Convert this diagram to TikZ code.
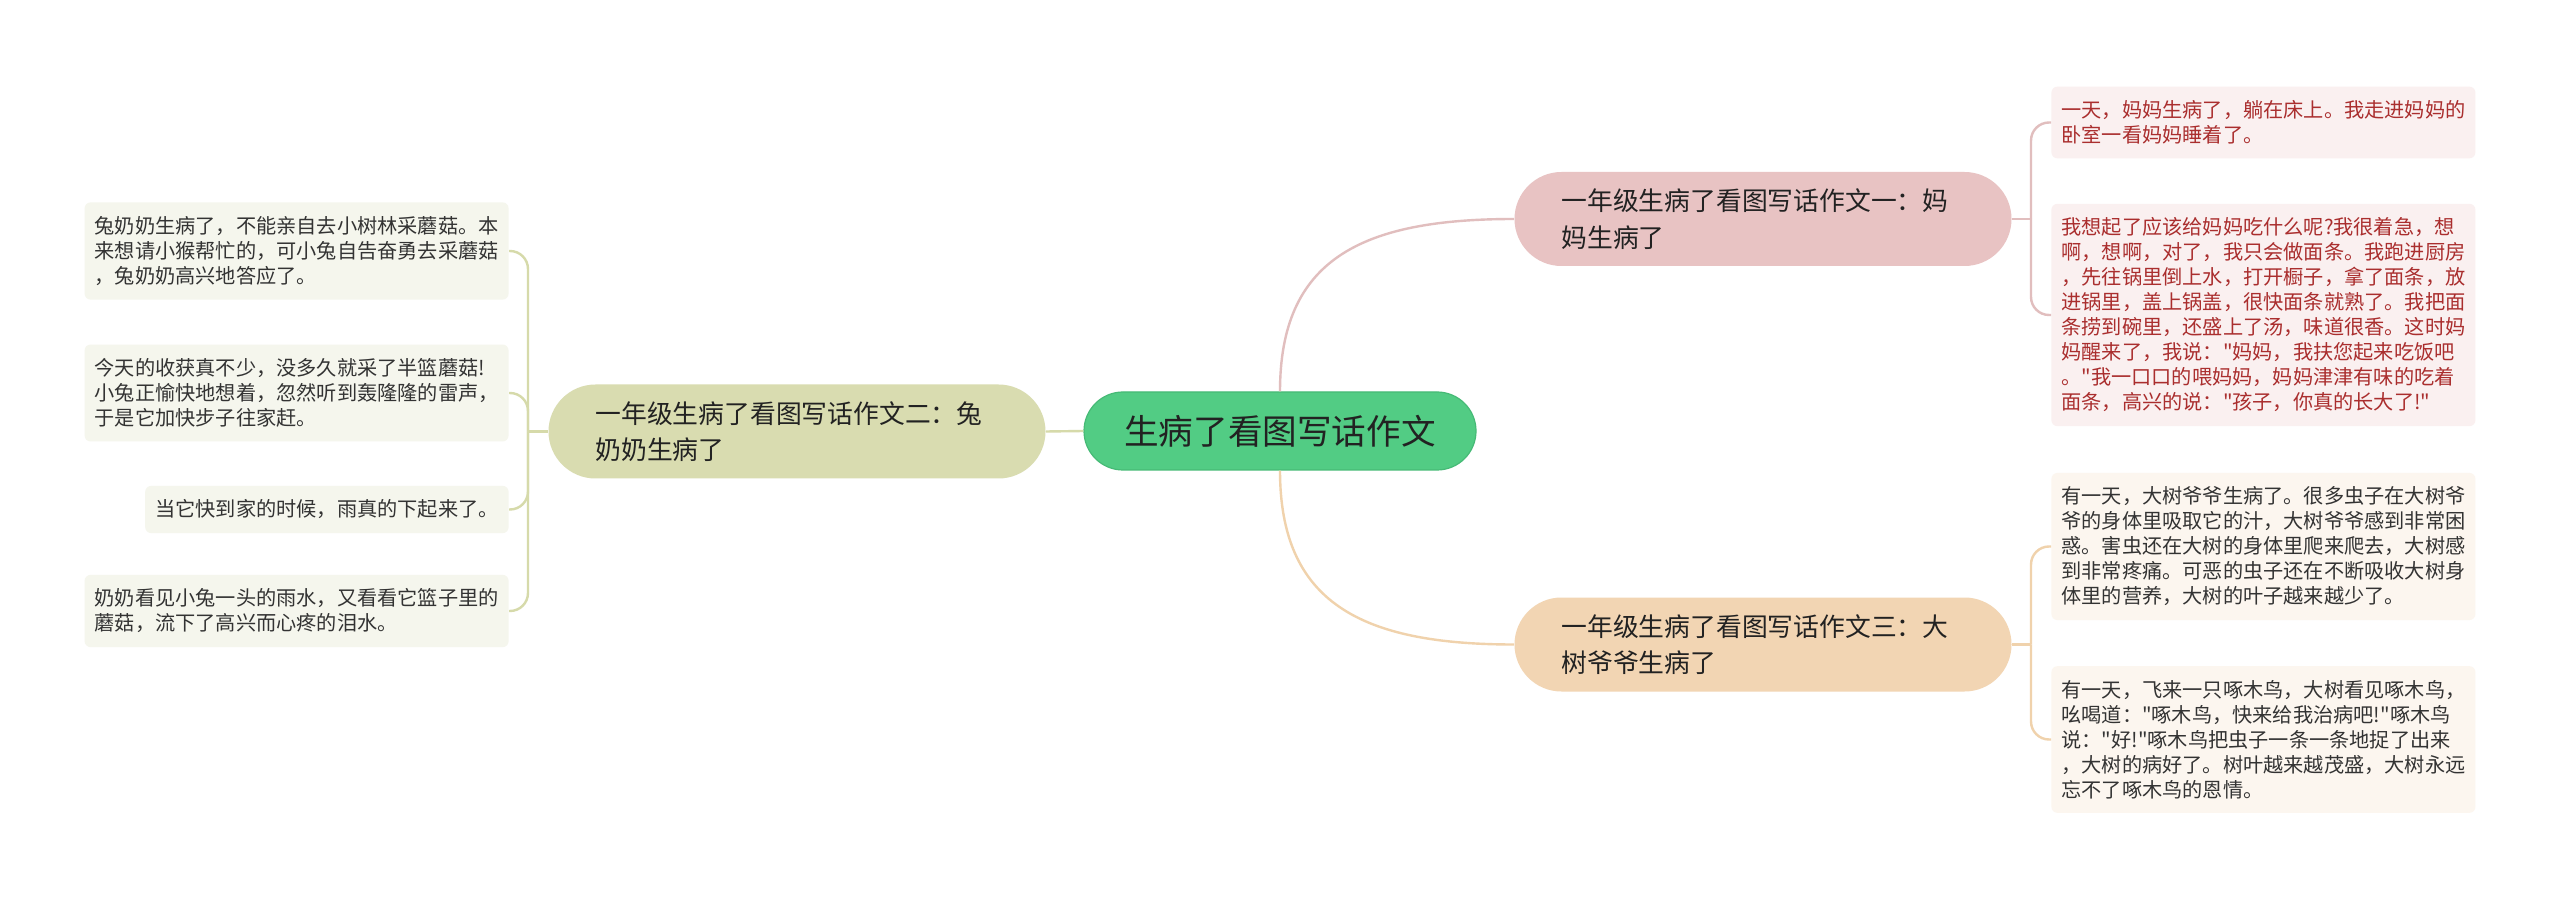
\documentclass[tikz,border=0pt]{standalone}
\usepackage{fontspec}
\setmainfont{Noto Sans CJK SC}[Ligatures=TeXOff]
\begin{document}
\begin{tikzpicture}[x=0.5pt, y=-0.5pt,
	rootnode/.style={fill=rootgreen, draw=rootedge, line width=0.6pt, rounded corners=19.5pt,
		minimum width=196pt, minimum height=39pt, text=textdark,
		font=\fontsize{17.3pt}{20pt}\selectfont},
	branchnode/.style={rounded corners=23.5pt, minimum width=248.5pt, minimum height=47pt,
		text width=201.5pt, inner xsep=23.5pt, align=left, text=textdark,
		font=\fontsize{12.9pt}{18.3pt}\selectfont},
	leafnode/.style={rounded corners=3pt, inner xsep=5pt, inner ysep=7pt, align=left,
		text=textgray, font=\fontsize{10.1pt}{12.5pt}\selectfont},
	link/.style={line width=1.2pt}]
	\definecolor{rootgreen}{RGB}{82, 204, 132}
	\definecolor{rootedge}{RGB}{70, 186, 118}
	\definecolor{textdark}{RGB}{34, 34, 34}
	\definecolor{textgray}{RGB}{51, 51, 51}
	\definecolor{redtext}{RGB}{170, 46, 46}
	\definecolor{pinkfill}{RGB}{232, 195, 195}
	\definecolor{pinkline}{RGB}{225, 190, 190}
	\definecolor{pinkleaf}{RGB}{250, 240, 240}
	\definecolor{olivefill}{RGB}{217, 220, 176}
	\definecolor{oliveline}{RGB}{214, 218, 170}
	\definecolor{oliveleaf}{RGB}{245, 246, 237}
	\definecolor{peachfill}{RGB}{242, 213, 179}
	\definecolor{peachline}{RGB}{240, 210, 172}
	\definecolor{peachleaf}{RGB}{252, 246, 239}

	% 画布（保持原图比例）
	\fill[white] (0,0) rectangle (2560,903);
	\useasboundingbox (0,0) rectangle (2560,903);

	% 中心主题与三个分支
	\node[rootnode] (root) at (1280,431) {生病了看图写话作文};
	\node[branchnode, fill=pinkfill] (b1) at (1763,219) {一年级生病了看图写话作文一：妈\\妈生病了};
	\node[branchnode, fill=olivefill] (b2) at (797,431.5) {一年级生病了看图写话作文二：兔\\奶奶生病了};
	\node[branchnode, fill=peachfill] (b3) at (1763,644.5) {一年级生病了看图写话作文三：大\\树爷爷生病了};

	% 右上分支的内容
	\node[leafnode, fill=pinkleaf, text=redtext, anchor=west] (l1a) at (2051,122.5)
		{一天，妈妈生病了，躺在床上。我走进妈妈的\\卧室一看妈妈睡着了。};
	\node[leafnode, fill=pinkleaf, text=redtext, anchor=west] (l1b) at (2051,315)
		{我想起了应该给妈妈吃什么呢?我很着急，想\\
		 啊，想啊，对了，我只会做面条。我跑进厨房\\
		 ，先往锅里倒上水，打开橱子，拿了面条，放\\
		 进锅里，盖上锅盖，很快面条就熟了。我把面\\
		 条捞到碗里，还盛上了汤，味道很香。这时妈\\
		 妈醒来了，我说："妈妈，我扶您起来吃饭吧\\
		 。"我一口口的喂妈妈，妈妈津津有味的吃着\\
		 面条，高兴的说："孩子，你真的长大了!"};

	% 右下分支的内容
	\node[leafnode, fill=peachleaf, anchor=west] (l3a) at (2051,546.5)
		{有一天，大树爷爷生病了。很多虫子在大树爷\\
		 爷的身体里吸取它的汁，大树爷爷感到非常困\\
		 惑。害虫还在大树的身体里爬来爬去，大树感\\
		 到非常疼痛。可恶的虫子还在不断吸收大树身\\
		 体里的营养，大树的叶子越来越少了。};
	\node[leafnode, fill=peachleaf, anchor=west] (l3b) at (2051,739.5)
		{有一天，飞来一只啄木鸟，大树看见啄木鸟，\\
		 吆喝道："啄木鸟，快来给我治病吧!"啄木鸟\\
		 说："好!"啄木鸟把虫子一条一条地捉了出来\\
		 ，大树的病好了。树叶越来越茂盛，大树永远\\
		 忘不了啄木鸟的恩情。};

	% 左侧分支的内容
	\node[leafnode, fill=oliveleaf, anchor=east] (l2a) at (509,251)
		{兔奶奶生病了，不能亲自去小树林采蘑菇。本\\
		 来想请小猴帮忙的，可小兔自告奋勇去采蘑菇\\
		 ，兔奶奶高兴地答应了。};
	\node[leafnode, fill=oliveleaf, anchor=east] (l2b) at (509,393)
		{今天的收获真不少，没多久就采了半篮蘑菇!\\
		 小兔正愉快地想着，忽然听到轰隆隆的雷声，\\
		 于是它加快步子往家赶。};
	\node[leafnode, fill=oliveleaf, anchor=east] (l2c) at (509,509.5)
		{当它快到家的时候，雨真的下起来了。};
	\node[leafnode, fill=oliveleaf, anchor=east] (l2d) at (509,611)
		{奶奶看见小兔一头的雨水，又看看它篮子里的\\
		 蘑菇，流下了高兴而心疼的泪水。};

	% 中心到分支的连线
	\draw[link, pinkline] (root.north) .. controls (1280,260) and (1360,219) .. (b1.west);
	\draw[link, peachline] (root.south) .. controls (1280,602) and (1360,644.5) .. (b3.west);
	\draw[link, oliveline] (root.west) -- (b2.east);

	% 分支到内容的连线
	\coordinate (j1) at (2031,219);
	\coordinate (j3) at (2031,644.5);
	\coordinate (j2) at (528,431.5);
	\draw[link, pinkline] (b1.east) -- (j1);
	\draw[link, pinkline, rounded corners=9pt] (j1) |- (l1a.west);
	\draw[link, pinkline, rounded corners=9pt] (j1) |- (l1b.west);
	\draw[link, peachline] (b3.east) -- (j3);
	\draw[link, peachline, rounded corners=9pt] (j3) |- (l3a.west);
	\draw[link, peachline, rounded corners=9pt] (j3) |- (l3b.west);
	\draw[link, oliveline] (b2.west) -- (j2);
	\foreach \leaf in {l2a, l2b, l2c, l2d}
		\draw[link, oliveline, rounded corners=9pt] (j2) |- (\leaf.east);
\end{tikzpicture}
\end{document}
